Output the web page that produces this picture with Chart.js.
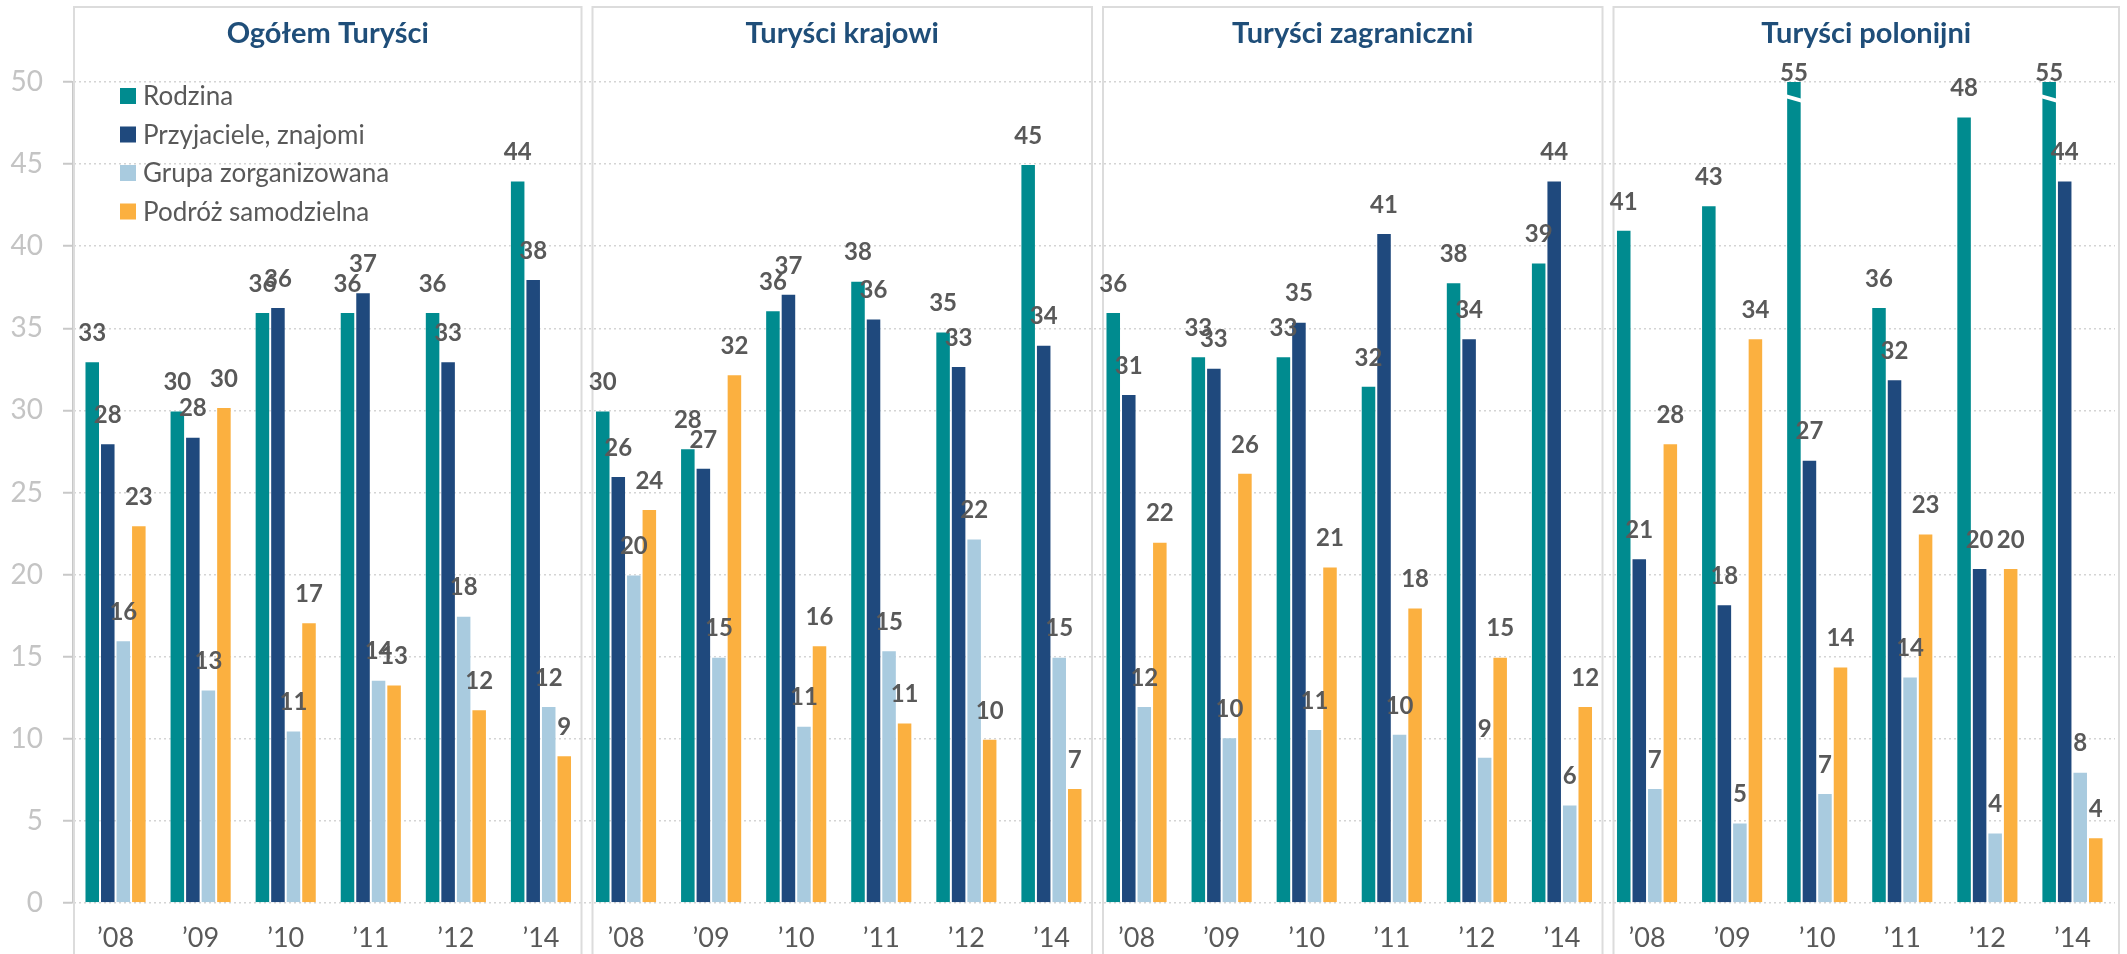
<!DOCTYPE html>
<html>
<head>
<meta charset="utf-8">
<script src="https://cdn.jsdelivr.net/npm/chart.js@4"></script>
<style>
  body { margin: 0; background: #fff; }
  #chart { display: block; }
</style>
</head>
<body>
<canvas id="chart" width="2127" height="954"></canvas>
<script>
// Data (4 panels x 6 years, panel after panel)
const years = ['’08', '’09', '’10', '’11', '’12', '’14'];
const panelTitles = ['Ogółem Turyści', 'Turyści krajowi', 'Turyści zagraniczni', 'Turyści polonijni'];
const seriesNames = ['Rodzina', 'Przyjaciele, znajomi', 'Grupa zorganizowana', 'Podróż samodzielna'];

const rodzina = [33, 30, 36, 36, 36, 44,  30, 27.7, 36.1, 37.9, 34.8, 45,  36, 33.3, 33.3, 31.5, 37.8, 39,  41, 42.5, 55, 36.3, 47.9, 55];
const przyjaciele = [28, 28.4, 36.3, 37.2, 33, 38,  26, 26.5, 37.1, 35.6, 32.7, 34,  31, 32.6, 35.4, 40.8, 34.4, 44,  21, 18.2, 27, 31.9, 20.4, 44];
const grupa = [16, 13, 10.5, 13.6, 17.5, 12,  20, 15, 10.8, 15.4, 22.2, 15,  12, 10.1, 10.6, 10.3, 8.9, 6,  7, 4.9, 6.7, 13.8, 4.3, 8];
const podroz = [23, 30.2, 17.1, 13.3, 11.8, 9,  24, 32.2, 15.7, 11, 10, 7,  22, 26.2, 20.5, 18, 15, 12,  28, 34.4, 14.4, 22.5, 20.4, 4];

const colors = ['#008b8f', '#1f497d', '#a9cbdf', '#fbb040'];
const FONT = 'Lato, "Open Sans", sans-serif';
const Y_MAX = 50;

// one category per year in every panel
const labels = [];
panelTitles.forEach(() => years.forEach(y => labels.push(y)));

// panel boxes, titles and the legend
const panelsPlugin = {
  id: 'panels',
  beforeDatasetsDraw(chart) {
    const { ctx, chartArea } = chart;
    const n = years.length;
    const cat = (chartArea.right - chartArea.left) / labels.length;
    ctx.save();
    ctx.strokeStyle = '#dcdcdc';
    ctx.lineWidth = 2;
    panelTitles.forEach((title, i) => {
      const b0 = chartArea.left + i * n * cat;
      const b1 = chartArea.left + (i + 1) * n * cat;
      const left = i === 0 ? chartArea.left + 1 : b0 + 9;
      const right = i === panelTitles.length - 1 ? b1 + 4 : b1 - 2;
      ctx.strokeRect(left, 7, right - left, 980);

      ctx.fillStyle = '#1f4e79';
      ctx.font = 'bold 29px ' + FONT;
      ctx.textAlign = 'center';
      ctx.textBaseline = 'middle';
      ctx.fillText(title, (left + right) / 2, 34);
    });

    // legend inside the first panel
    ctx.font = '26px ' + FONT;
    ctx.textAlign = 'left';
    seriesNames.forEach((name, i) => {
      const y = 96 + i * 38.5;
      ctx.fillStyle = colors[i];
      ctx.fillRect(120, y - 8, 16, 16);
      ctx.fillStyle = '#595959';
      ctx.fillText(name, 143, y + 1);
    });
    ctx.restore();
  }
};

// value labels, with axis-break marks for bars above the scale
const labelsPlugin = {
  id: 'valueLabels',
  afterDatasetsDraw(chart) {
    const { ctx, chartArea } = chart;
    ctx.save();
    chart.data.datasets.forEach((ds, i) => {
      const meta = chart.getDatasetMeta(i);
      meta.data.forEach((bar, j) => {
        const v = ds.data[j];
        let y;
        if (v > Y_MAX) {
          const half = bar.width / 2 + 1;
          const t = chartArea.top;
          ctx.fillStyle = '#ffffff';
          ctx.beginPath();
          ctx.moveTo(bar.x - half, t + 12);
          ctx.lineTo(bar.x + half, t + 17);
          ctx.lineTo(bar.x + half, t + 21);
          ctx.lineTo(bar.x - half, t + 16);
          ctx.closePath();
          ctx.fill();
          y = t - 9;
        } else {
          y = bar.y - 28;
        }
        ctx.fillStyle = '#595959';
        ctx.font = 'bold 24px ' + FONT;
        ctx.textAlign = 'center';
        ctx.textBaseline = 'middle';
        ctx.fillText(String(Math.round(v)), bar.x, y);
      });
    });
    ctx.restore();
  }
};

const seriesData = [rodzina, przyjaciele, grupa, podroz];

new Chart(document.getElementById('chart'), {
  type: 'bar',
  data: {
    labels: labels,
    datasets: seriesNames.map((name, i) => ({
      label: name,
      data: seriesData[i],
      backgroundColor: colors[i],
      borderColor: 'rgba(255,255,255,0.45)',
      borderWidth: 1,
      categoryPercentage: 0.73,
      barPercentage: 1,
      clip: 0
    }))
  },
  options: {
    responsive: false,
    animation: false,
    layout: { padding: { top: 82, right: 12, left: 0, bottom: 0 } },
    plugins: {
      legend: { display: false },
      tooltip: { enabled: false }
    },
    scales: {
      x: {
        grid: { display: false, drawTicks: false },
        border: { display: false },
        ticks: {
          color: '#595959',
          font: { family: FONT, size: 27 },
          padding: 19,
          autoSkip: false,
          maxRotation: 0
        },
        afterFit(scale) { scale.height = 51; }
      },
      y: {
        min: 0,
        max: Y_MAX,
        ticks: {
          stepSize: 5,
          color: '#c4c4c4',
          font: { family: FONT, size: 28 },
          padding: 20
        },
        grid: {
          color: '#d4d4d4',
          lineWidth: 1.5,
          tickLength: 10,
          tickColor: '#c8c8c8',
          tickWidth: 2,
          tickBorderDash: []
        },
        border: { display: true, color: '#c8c8c8', width: 2, dash: [2, 3] },
        afterFit(scale) { scale.width = 73; }
      }
    }
  },
  plugins: [panelsPlugin, labelsPlugin]
});
</script>
</body>
</html>
